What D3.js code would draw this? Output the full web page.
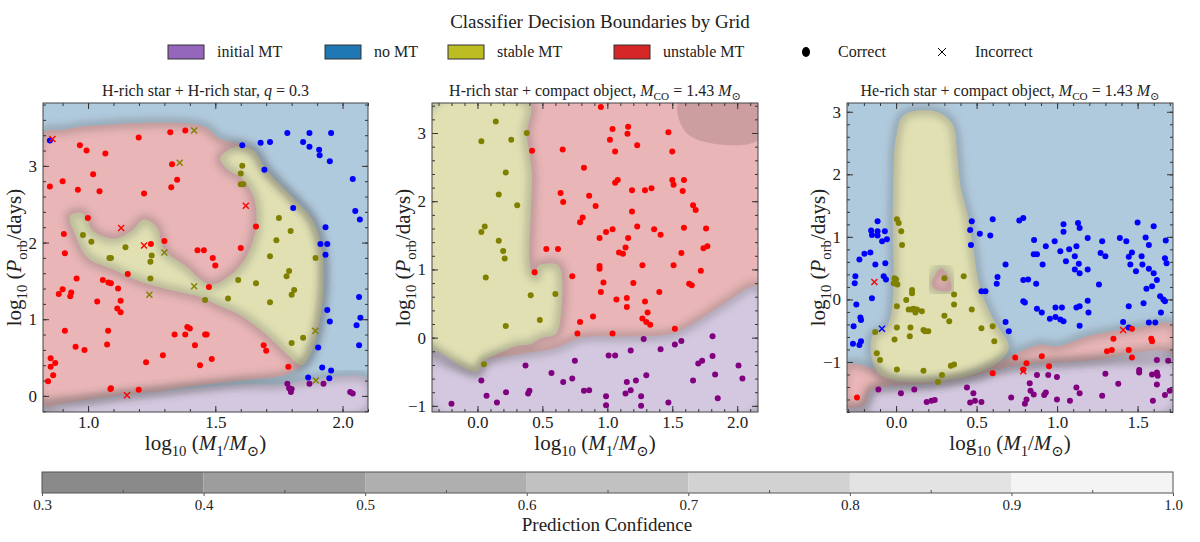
<!DOCTYPE html>
<html>
<head>
<meta charset="utf-8">
<script src="https://cdn.jsdelivr.net/npm/d3@7"></script>
<style>
body { margin: 0; background: #fff; }
text { font-family: "Liberation Serif", "DejaVu Serif", serif; fill: #222; }
</style>
</head>
<body>
<svg id="chart" width="1200" height="542"></svg>
<script>
// ---- data ----
var classes = ["initial MT", "no MT", "stable MT", "unstable MT"];
var classColors = ["#9467bd", "#1f77b4", "#bcbd22", "#d62728"];
var regionColors = ["#d3c8df", "#b0cadd", "#e0e0b3", "#e9b5b6"];
var pointColors = ["#800080", "#0000ff", "#808000", "#ff0000"];
var confTicks = [0.3, 0.4, 0.5, 0.6, 0.7, 0.8, 0.9, 1.0];
var confGrays = ["#8a8a8a", "#9d9d9d", "#afafaf", "#c1c1c1", "#d2d2d2", "#e3e3e3", "#f4f4f4"];

// panel 1: H-rich + H-rich
var p1Xdomain = [0.823, 2.10], p1Ydomain = [-0.21, 3.82];
var p1Xticks = [1.0, 1.5, 2.0], p1Yticks = [0, 1, 2, 3];
var p1Purple = [[0.823,-0.21],[0.823,-0.12],[1.0,-0.05],[1.25,0.05],[1.6,0.15],[1.75,0.15],[1.85,0.2],[2.1,0.22],[2.1,-0.21]];
var p1Red = [[0.823,-0.12],[0.823,3.42],[0.9,3.47],[1.0,3.52],[1.45,3.52],[1.52,3.35],[1.58,3.3],[1.65,3.2],[1.7,2.95],[1.8,2.6],[1.88,2.3],[1.92,1.9],[1.92,1.2],[1.88,0.6],[1.84,0.4],[1.78,0.28],[1.6,0.2],[1.4,0.12],[1.25,0.05],[1.1,0.0],[1.0,-0.05],[0.9,-0.1]];
var p1Yellow = [[1.52,3.1],[1.58,3.25],[1.65,3.2],[1.7,2.95],[1.8,2.6],[1.88,2.3],[1.92,1.9],[1.92,1.2],[1.88,0.6],[1.84,0.4],[1.78,0.55],[1.7,0.8],[1.6,1.05],[1.5,1.2],[1.45,1.28],[1.3,1.4],[1.2,1.5],[1.1,1.65],[1.0,1.8],[0.95,2.1],[0.93,2.35],[0.98,2.38],[1.02,2.15],[1.1,2.05],[1.17,2.15],[1.22,2.3],[1.27,2.2],[1.3,1.9],[1.38,1.7],[1.48,1.45],[1.55,1.55],[1.62,1.8],[1.66,2.2],[1.65,2.6],[1.6,2.85],[1.55,2.95]];
var p1Pts = {
  0: [[1.783,0.16],[1.79,0.10],[1.797,0.05],[1.80,0.09],[1.87,0.16],[1.925,0.16],[2.03,0.05],[2.04,0.03]],
  1: [[0.85,3.33],[1.606,3.27],[1.678,3.30],[1.715,3.31],[1.783,3.43],[1.845,3.31],[1.87,3.43],[1.87,3.25],[1.908,3.21],[1.91,3.14],[1.95,3.06],[1.955,3.43],[1.693,2.95],[2.04,2.83],[1.806,2.45],[2.05,2.41],[2.068,2.30],[1.933,2.20],[1.913,1.98],[1.94,1.98],[1.933,1.84],[2.065,1.29],[2.07,1.02],[2.055,0.92],[2.065,0.66],[1.94,1.12],[1.95,0.97],[1.904,0.63],[1.92,0.37],[1.955,0.33],[1.948,0.23],[1.865,0.24]],
  2: [[1.606,3.0],[1.60,2.90],[1.60,2.76],[1.61,2.76],[0.98,2.10],[1.013,2.01],[1.084,1.80],[1.09,1.80],[1.147,1.94],[1.245,1.75],[1.25,1.83],[1.245,1.53],[1.46,1.25],[1.55,1.27],[1.59,1.51],[1.66,1.47],[1.75,2.32],[1.74,2.03],[1.796,2.15],[1.79,1.63],[1.78,1.56],[1.81,1.38],[1.80,1.32],[1.715,1.22],[1.715,1.82],[1.894,1.80],[1.845,0.76],[1.80,0.69]],
  3: [[1.323,3.44],[1.382,3.46],[1.199,3.37],[0.968,3.27],[0.994,3.20],[1.068,3.16],[0.85,2.73],[0.90,2.80],[1.02,2.89],[0.96,2.69],[1.045,2.67],[1.22,2.64],[1.33,3.02],[1.35,2.82],[1.327,2.72],[0.999,2.32],[1.66,2.21],[1.60,1.93],[1.247,1.98],[1.30,2.02],[1.43,1.90],[1.455,1.90],[1.49,1.80],[1.50,1.70],[1.475,1.42],[0.905,2.11],[0.909,1.86],[0.955,1.53],[0.90,1.39],[0.885,1.33],[0.934,1.35],[0.93,1.30],[1.036,1.23],[1.058,1.51],[1.08,1.48],[1.09,1.47],[1.118,1.40],[1.128,1.24],[1.115,1.14],[1.128,1.09],[1.156,1.59],[1.079,0.85],[0.909,0.85],[1.075,0.67],[0.951,0.64],[0.986,0.60],[0.853,0.49],[0.853,0.38],[0.863,0.27],[0.843,0.19],[0.871,0.43],[1.088,0.09],[1.09,0.10],[1.199,0.08],[1.228,0.44],[1.294,0.53],[1.34,0.80],[1.39,0.90],[1.40,0.88],[1.382,0.80],[1.46,0.80],[1.466,0.80],[1.42,0.66],[1.44,0.40],[1.486,0.48],[1.69,0.66],[1.70,0.59],[1.787,0.38]]
};
var p1Wrong = {
  2: [[1.417,3.46],[1.36,3.04],[1.30,1.87],[1.241,1.32],[1.417,1.43],[1.893,0.85],[1.895,0.20]],
  3: [[0.86,3.35],[1.62,2.48],[1.13,2.19],[1.22,1.96],[1.153,0.01]]
};

// panel 2: H-rich + compact object
var p2Xdomain = [-0.35, 2.16], p2Ydomain = [-1.09, 3.44];
var p2Xticks = [0.0, 0.5, 1.0, 1.5, 2.0], p2Yticks = [-1, 0, 1, 2, 3];
var p2Yellow = [[-0.35,3.44],[0.4,3.44],[0.38,3.0],[0.4,2.7],[0.42,2.4],[0.41,1.8],[0.41,1.0],[0.45,0.9],[0.47,1.05],[0.6,1.08],[0.64,1.0],[0.64,0.3],[0.6,0.05],[0.5,0.0],[0.4,-0.1],[0.3,-0.12],[0.2,-0.2],[0.05,-0.35],[0.0,-0.5],[-0.1,-0.45],[-0.35,-0.2]];
var p2Purple = [[-0.35,-0.2],[-0.1,-0.45],[0.0,-0.5],[0.05,-0.35],[0.3,-0.25],[0.6,-0.15],[0.8,0.0],[1.2,0.02],[1.5,0.06],[1.7,0.25],[1.9,0.5],[2.16,0.75],[2.16,-1.09],[-0.35,-1.09]];
var p2Dark = [[1.55,3.44],[2.16,3.44],[2.16,2.9],[1.8,2.85],[1.6,3.02]];
var p2Pts = {
  0: [[1.28,-0.02],[1.41,-0.17],[1.52,-0.10],[1.57,-0.05],[1.81,0.02],[1.81,-0.27],[1.73,-0.34],[1.70,-0.38],[2.01,-0.41],[2.04,-0.60],[1.83,-0.54],[1.85,-0.89],[1.66,-0.63],[1.47,-0.95],[1.26,-0.86],[1.26,-1.0],[1.30,-0.55],[1.22,-0.63],[1.15,-0.65],[1.18,-0.77],[1.14,-0.82],[1.01,-0.26],[1.06,-0.26],[1.18,-0.19],[0.99,-0.86],[0.99,-0.99],[0.86,-0.77],[0.82,-0.78],[0.73,-0.60],[0.66,-0.65],[0.57,-0.52],[0.75,-0.34],[0.37,-0.41],[0.40,-0.78],[0.39,-0.82],[0.22,-0.80],[0.15,-0.95],[0.07,-0.85],[0.03,-0.63],[-0.20,-0.97]],
  1: [],
  2: [[0.141,3.17],[0.03,2.88],[0.26,2.90],[0.38,3.0],[0.218,2.42],[0.164,2.10],[0.306,1.94],[0.03,1.55],[0.056,1.63],[0.164,1.42],[0.198,1.27],[0.21,1.16],[0.064,0.88],[0.41,0.62],[0.60,0.64],[0.48,0.26],[0.218,0.17],[0.05,-0.39]],
  3: [[0.95,3.38],[1.04,3.06],[1.16,3.09],[1.155,2.99],[1.02,2.90],[1.06,2.73],[1.23,2.82],[1.47,3.01],[1.50,2.73],[0.42,2.74],[0.656,2.76],[0.82,2.49],[1.08,2.31],[1.06,2.27],[1.19,2.16],[1.29,2.16],[1.34,2.19],[1.50,2.31],[1.51,2.24],[1.59,2.31],[1.58,2.15],[0.64,2.12],[0.66,1.99],[0.86,2.08],[0.91,1.93],[0.81,1.76],[0.79,1.69],[1.19,1.85],[1.66,1.94],[1.68,1.87],[0.94,1.46],[0.99,1.55],[1.04,1.59],[1.23,1.63],[1.16,1.46],[1.36,1.59],[1.41,1.51],[1.59,1.61],[1.76,1.60],[0.62,1.30],[0.53,1.30],[1.14,1.32],[1.09,1.25],[1.12,1.23],[1.57,1.24],[1.74,1.31],[1.77,1.34],[0.94,1.05],[0.94,1.01],[1.27,1.06],[1.51,1.06],[1.72,0.98],[0.44,0.96],[0.73,0.90],[0.97,0.81],[1.20,0.80],[0.95,0.67],[1.40,0.67],[1.65,0.77],[1.63,0.79],[1.07,0.56],[1.15,0.58],[1.15,0.45],[1.29,0.53],[1.31,0.37],[0.89,0.31],[0.79,0.23],[1.27,0.28],[1.30,0.23],[1.33,0.19],[1.52,0.13],[0.77,0.06],[1.04,0.06]]
};
var p2Wrong = {};

// panel 3: He-rich + compact object
var p3Xdomain = [-0.305, 1.72], p3Ydomain = [-1.8, 3.14];
var p3Xticks = [0.0, 0.5, 1.0, 1.5], p3Yticks = [-1, 0, 1, 2, 3];
var p3Red = [[-0.305,-1.05],[-0.15,-1.1],[0.0,-1.3],[0.4,-1.25],[0.6,-1.05],[0.8,-0.8],[0.9,-0.72],[1.0,-0.75],[1.2,-0.58],[1.5,-0.45],[1.72,-0.4],[1.72,-0.88],[1.2,-0.98],[0.7,-1.08],[0.5,-1.22],[0.2,-1.35],[0.0,-1.38],[-0.15,-1.45],[-0.2,-1.7],[-0.305,-1.75]];
var p3Purple = [[-0.305,-1.8],[1.72,-1.8],[1.72,-0.88],[1.2,-0.98],[0.7,-1.08],[0.5,-1.22],[0.2,-1.35],[0.0,-1.38],[-0.15,-1.45],[-0.2,-1.7],[-0.305,-1.75]];
var p3Yellow = [[-0.15,-0.6],[-0.12,-1.15],[0.0,-1.3],[0.3,-1.3],[0.5,-1.18],[0.66,-0.95],[0.7,-0.75],[0.6,-0.3],[0.52,0.2],[0.48,0.8],[0.45,1.3],[0.4,1.8],[0.38,2.3],[0.35,2.8],[0.25,3.0],[0.05,2.95],[0.0,2.6],[-0.02,1.5],[-0.05,-0.4]];
var p3RedBlob = [[0.22,0.25],[0.28,0.5],[0.33,0.35],[0.34,0.15],[0.25,0.15]];
var p3Pts = {
  0: [[0.03,-1.5],[0.113,-1.44],[0.19,-1.64],[0.22,-1.62],[0.24,-1.61],[0.44,-1.41],[0.48,-1.50],[0.46,-1.65],[0.49,-1.62],[0.53,-1.64],[0.715,-1.57],[0.81,-1.60],[0.80,-1.67],[0.875,-1.21],[0.83,-1.34],[0.835,-1.46],[0.855,-1.52],[0.92,-1.53],[0.945,-1.21],[0.93,-1.49],[0.999,-1.24],[0.999,-1.60],[1.08,-1.62],[1.12,-1.41],[1.14,-1.50],[1.30,-1.19],[1.28,-1.54],[1.38,-1.35],[1.51,-1.13],[1.51,-1.17],[1.595,-1.62],[1.62,-1.36],[1.70,-1.46],[1.67,-1.53],[1.59,-1.20],[1.62,-1.17],[1.625,-1.22],[1.62,-0.97],[-0.11,-1.44],[1.69,-0.98]],
  1: [[-0.115,1.02],[-0.228,0.64],[-0.197,0.73],[-0.16,0.75],[-0.115,1.09],[-0.155,1.10],[-0.15,1.03],[-0.07,1.09],[-0.057,0.96],[-0.087,0.93],[-0.129,0.56],[-0.067,0.58],[-0.077,0.37],[-0.063,0.32],[-0.253,0.37],[-0.257,0.26],[-0.222,-0.29],[-0.218,-0.33],[-0.247,-0.08],[-0.15,0.02],[-0.264,-0.43],[-0.218,-0.67],[-0.228,-0.73],[-0.268,-0.71],[-0.115,1.25],[0.47,1.25],[0.46,1.11],[0.465,0.87],[0.52,1.05],[0.585,1.02],[0.60,1.28],[0.63,0.36],[0.625,0.25],[0.53,0.13],[0.555,0.13],[0.68,-0.36],[0.70,-0.51],[0.68,0.56],[0.765,1.26],[0.79,1.30],[0.857,0.95],[0.855,0.72],[0.875,0.72],[0.91,0.56],[0.93,0.85],[0.985,0.93],[1.04,1.08],[1.02,0.77],[1.075,0.80],[1.055,0.61],[1.11,0.69],[1.11,0.48],[1.14,0.42],[1.19,0.48],[1.14,1.14],[1.135,0.57],[1.19,0.98],[1.12,0.85],[0.79,0.31],[0.82,0.32],[0.87,0.25],[0.79,-0.03],[0.80,-0.05],[0.875,-0.15],[0.905,-0.21],[0.955,-0.31],[0.99,-0.28],[1.02,-0.32],[1.04,-0.35],[0.99,-0.13],[1.03,-0.13],[1.12,-0.13],[1.14,-0.42],[1.19,-0.02],[1.195,-0.21],[1.26,0.24],[1.28,0.93],[1.39,0.98],[1.43,0.93],[1.445,0.68],[1.465,0.75],[1.455,0.56],[1.49,0.45],[1.525,0.69],[1.53,0.56],[1.57,0.49],[1.537,-0.06],[1.555,0.17],[1.59,0.21],[1.60,0.42],[1.62,0.31],[1.64,0.05],[1.67,0.66],[1.68,0.58],[1.675,0.94],[1.445,-0.11],[1.41,-0.36],[1.445,-0.45],[1.57,-0.37],[1.61,-0.37],[1.66,0.0],[1.67,-0.03],[1.645,-0.21],[1.50,1.23],[1.60,1.17],[1.57,0.87],[1.55,0.99],[1.13,1.22],[1.04,1.20],[1.27,0.74],[1.30,0.69],[1.14,-0.11]],
  2: [[0.005,1.28],[0.016,1.22],[0.032,1.09],[0.037,0.87],[-0.01,0.34],[0.0,0.32],[0.008,0.24],[0.005,-0.11],[0.063,-0.01],[0.078,-0.16],[0.094,-0.16],[0.109,-0.15],[0.099,0.15],[0.099,0.10],[0.13,-0.16],[0.12,-0.21],[0.16,-0.19],[0.005,-0.45],[-0.01,-0.64],[0.089,-0.45],[0.085,-0.59],[0.17,-0.49],[0.18,-0.51],[0.20,-0.51],[0.30,0.34],[0.36,0.08],[0.36,-0.08],[0.30,-0.26],[0.33,-0.35],[0.42,0.37],[0.47,-0.16],[0.53,-0.46],[0.60,-0.43],[0.61,-0.67],[0.36,-1.04],[0.34,-1.06],[0.285,-1.21],[0.26,-1.32],[0.005,-1.12],[0.17,-1.14],[-0.13,-0.52],[-0.12,-0.86],[-0.10,-0.97],[-0.015,0.26]],
  3: [[1.465,-0.47],[1.35,-0.63],[1.31,-0.83],[1.34,-0.81],[1.445,-0.81],[1.465,-0.93],[1.585,-0.63],[1.59,-0.67],[0.74,-0.93],[0.81,-1.02],[0.79,-1.12],[0.905,-0.91],[0.95,-1.07],[0.60,-1.18],[-0.243,-1.57]]
};
var p3Wrong = {
  1: [[-0.088,-0.47]],
  3: [[-0.135,0.28],[1.41,-0.49],[0.79,-1.15]]
};

// ---- drawing ----
var svg = d3.select("#chart");
var defs = svg.append("defs");
defs.append("filter").attr("id", "blur").attr("x", "-10%").attr("y", "-10%").attr("width", "120%").attr("height", "120%")
  .append("feGaussianBlur").attr("stdDeviation", 3);

var plotTop = 103, plotBottom = 412;
var panels = [
  {x0: 43, x1: 368, xd: p1Xdomain, yd: p1Ydomain, xt: p1Xticks, yt: p1Yticks, bg: 1,
   regions: [[p1Purple, 0], [p1Red, 3], [p1Yellow, 2]], dark: null, pts: p1Pts, wrong: p1Wrong,
   title: [["H-rich star + H-rich star, ", ""], ["q", "i"], [" = 0.3", ""]]},
  {x0: 432, x1: 758, xd: p2Xdomain, yd: p2Ydomain, xt: p2Xticks, yt: p2Yticks, bg: 3,
   regions: [[p2Yellow, 2], [p2Purple, 0]], dark: p2Dark, pts: p2Pts, wrong: p2Wrong,
   title: [["H-rich star + compact object, ", ""], ["M", "i"], ["CO", "sub"], [" = 1.43 ", ""], ["M", "i"], ["⊙", "sub"]]},
  {x0: 847, x1: 1173, xd: p3Xdomain, yd: p3Ydomain, xt: p3Xticks, yt: p3Yticks, bg: 1,
   regions: [[p3Red, 3], [p3Purple, 0], [p3Yellow, 2], [p3RedBlob, 3]], dark: null, pts: p3Pts, wrong: p3Wrong,
   title: [["He-rich star + compact object, ", ""], ["M", "i"], ["CO", "sub"], [" = 1.43 ", ""], ["M", "i"], ["⊙", "sub"]]}
];

// tspans with automatic baseline reset after subscripts
function richText(sel, parts, size) {
  var shifted = false;
  parts.forEach(function(p) {
    var t = sel.append("tspan").text(p[0]);
    if (p[1] === "i") t.attr("font-style", "italic");
    if (p[1] === "sub") {
      t.attr("font-size", size * 0.7).attr("dy", shifted ? 0 : size * 0.28);
      shifted = true;
    } else if (shifted) {
      t.attr("dy", -size * 0.28);
      shifted = false;
    }
  });
}

panels.forEach(function(P, i) {
  var x = d3.scaleLinear().domain(P.xd).range([P.x0, P.x1]);
  var y = d3.scaleLinear().domain(P.yd).range([plotBottom, plotTop]);
  var g = svg.append("g");
  var cid = "clip" + i;
  defs.append("clipPath").attr("id", cid).append("rect")
    .attr("x", P.x0).attr("y", plotTop).attr("width", P.x1 - P.x0).attr("height", plotBottom - plotTop);
  var plot = g.append("g").attr("clip-path", "url(#" + cid + ")");
  plot.append("rect").attr("x", P.x0).attr("y", plotTop).attr("width", P.x1 - P.x0).attr("height", plotBottom - plotTop)
    .attr("fill", regionColors[P.bg]);
  var line = d3.line().x(function(d) { return x(d[0]); }).y(function(d) { return y(d[1]); })
    .curve(d3.curveCatmullRomClosed.alpha(0.5));
  P.regions.forEach(function(r) {
    plot.append("path").attr("d", line(r[0])).attr("fill", regionColors[r[1]]);
  });
  // low-confidence bands along boundaries
  P.regions.forEach(function(r) {
    plot.append("path").attr("d", line(r[0])).attr("fill", "none")
      .attr("stroke", "#555").attr("stroke-opacity", 0.25).attr("stroke-width", 11).attr("filter", "url(#blur)");
  });
  if (P.dark) plot.append("path").attr("d", line(P.dark)).attr("fill", "#7a5a5a").attr("fill-opacity", 0.25);

  [0, 1, 2, 3].forEach(function(c) {
    plot.selectAll(null).data(P.pts[c] || []).enter().append("circle")
      .attr("cx", function(d) { return x(d[0]); }).attr("cy", function(d) { return y(d[1]); })
      .attr("r", 3).attr("fill", pointColors[c]);
    var s = 3;
    plot.selectAll(null).data(P.wrong[c] || []).enter().append("path")
      .attr("d", function(d) { var a = x(d[0]), b = y(d[1]);
        return "M" + (a - s) + "," + (b - s) + "L" + (a + s) + "," + (b + s) + "M" + (a - s) + "," + (b + s) + "L" + (a + s) + "," + (b - s); })
      .attr("stroke", pointColors[c]).attr("stroke-width", 1.4);
  });

  // axes with inward ticks on all sides
  var fmtX = d3.format(".1f");
  var fmtY = function(v) { return v < 0 ? "−" + Math.abs(v) : String(v); };
  var xMinor = d3.range(Math.ceil(P.xd[0] * 10), Math.floor(P.xd[1] * 10) + 1).map(function(v) { return v / 10; });
  var yMinor = d3.range(Math.ceil(P.yd[0] * 5), Math.floor(P.yd[1] * 5) + 1).map(function(v) { return v / 5; });
  g.append("g").attr("transform", "translate(0," + plotBottom + ")").call(d3.axisBottom(x).tickValues(xMinor).tickSize(-3).tickFormat(""));
  g.append("g").attr("transform", "translate(0," + plotTop + ")").call(d3.axisTop(x).tickValues(xMinor).tickSize(-3).tickFormat(""));
  g.append("g").attr("transform", "translate(" + P.x0 + ",0)").call(d3.axisLeft(y).tickValues(yMinor).tickSize(-3).tickFormat(""));
  g.append("g").attr("transform", "translate(" + P.x1 + ",0)").call(d3.axisRight(y).tickValues(yMinor).tickSize(-3).tickFormat(""));
  var xa = g.append("g").attr("transform", "translate(0," + plotBottom + ")").call(d3.axisBottom(x).tickValues(P.xt).tickSize(-6).tickPadding(4).tickFormat(fmtX));
  g.append("g").attr("transform", "translate(0," + plotTop + ")").call(d3.axisTop(x).tickValues(P.xt).tickSize(-6).tickFormat(""));
  var ya = g.append("g").attr("transform", "translate(" + P.x0 + ",0)").call(d3.axisLeft(y).tickValues(P.yt).tickSize(-6).tickPadding(6).tickFormat(fmtY));
  g.append("g").attr("transform", "translate(" + P.x1 + ",0)").call(d3.axisRight(y).tickValues(P.yt).tickSize(-6).tickFormat(""));
  g.selectAll(".domain").remove();
  g.selectAll(".tick line").attr("stroke", "#333");
  xa.selectAll("text").attr("font-size", 17).attr("font-family", "Liberation Serif").attr("fill", "#222");
  ya.selectAll("text").attr("font-size", 17).attr("font-family", "Liberation Serif").attr("fill", "#222");
  g.append("rect").attr("x", P.x0).attr("y", plotTop).attr("width", P.x1 - P.x0).attr("height", plotBottom - plotTop)
    .attr("fill", "none").attr("stroke", "#444").attr("stroke-width", 1);

  // titles & labels
  var tt = g.append("text").attr("x", (P.x0 + P.x1) / 2).attr("y", 96).attr("text-anchor", "middle").attr("font-size", 16);
  richText(tt, P.title, 16);
  var xl = g.append("text").attr("x", (P.x0 + P.x1) / 2).attr("y", 450).attr("text-anchor", "middle").attr("font-size", 21);
  richText(xl, [["log", ""], ["10", "sub"], [" (", ""], ["M", "i"], ["1", "sub"], ["/", ""], ["M", "i"], ["⊙", "sub"], [")", ""]], 21);
  var yl = g.append("text").attr("transform", "translate(" + (P.x0 - 22) + "," + ((plotTop + plotBottom) / 2) + ") rotate(-90)")
    .attr("text-anchor", "middle").attr("font-size", 21);
  richText(yl, [["log", ""], ["10", "sub"], [" (", ""], ["P", "i"], ["orb", "sub"], ["/days)", ""]], 21);
});

// suptitle and legend
svg.append("text").attr("x", 600).attr("y", 28).attr("text-anchor", "middle").attr("font-size", 19)
  .text("Classifier Decision Boundaries by Grid");
var legX = [168, 325, 448, 614];
classes.forEach(function(c, i) {
  svg.append("rect").attr("x", legX[i]).attr("y", 45).attr("width", 36).attr("height", 14)
    .attr("fill", classColors[i]).attr("stroke", "#333").attr("stroke-width", 1);
  svg.append("text").attr("x", legX[i] + 49).attr("y", 57).attr("font-size", 16).text(c);
});
svg.append("ellipse").attr("cx", 806).attr("cy", 52).attr("rx", 4).attr("ry", 5).attr("fill", "#000");
svg.append("text").attr("x", 838).attr("y", 57).attr("font-size", 16).text("Correct");
svg.append("path").attr("d", "M938,48L946,56M938,56L946,48").attr("stroke", "#000").attr("stroke-width", 1);
svg.append("text").attr("x", 975).attr("y", 57).attr("font-size", 16).text("Incorrect");

// colorbar
var cb = d3.scaleLinear().domain([0.3, 1.0]).range([42, 1173]);
var cbTop = 472, cbH = 21;
svg.selectAll(null).data(confGrays).enter().append("rect")
  .attr("x", function(d, i) { return cb(confTicks[i]); }).attr("y", cbTop)
  .attr("width", function(d, i) { return cb(confTicks[i + 1]) - cb(confTicks[i]); }).attr("height", cbH)
  .attr("fill", function(d) { return d; });
var cbMinor = d3.range(31, 100).filter(function(v) { return v % 5 === 0 && v % 10 !== 0; }).map(function(v) { return v / 100; });
svg.append("g").attr("transform", "translate(0," + (cbTop + cbH) + ")")
  .call(d3.axisBottom(cb).tickValues(cbMinor).tickSize(-3).tickFormat(""))
  .call(function(a) { a.select(".domain").remove(); a.selectAll("line").attr("stroke", "#555"); });
svg.append("rect").attr("x", 42).attr("y", cbTop).attr("width", 1131).attr("height", cbH)
  .attr("fill", "none").attr("stroke", "#555");
var cba = svg.append("g").attr("transform", "translate(0," + (cbTop + cbH) + ")")
  .call(d3.axisBottom(cb).tickValues(confTicks).tickSize(3).tickPadding(3).tickFormat(d3.format(".1f")));
cba.select(".domain").remove();
cba.selectAll("line").attr("stroke", "#555");
cba.selectAll("text").attr("font-size", 15).attr("font-family", "Liberation Serif").attr("fill", "#222");
svg.append("text").attr("x", 607).attr("y", 531).attr("text-anchor", "middle").attr("font-size", 19)
  .text("Prediction Confidence");
</script>
</body>
</html>
